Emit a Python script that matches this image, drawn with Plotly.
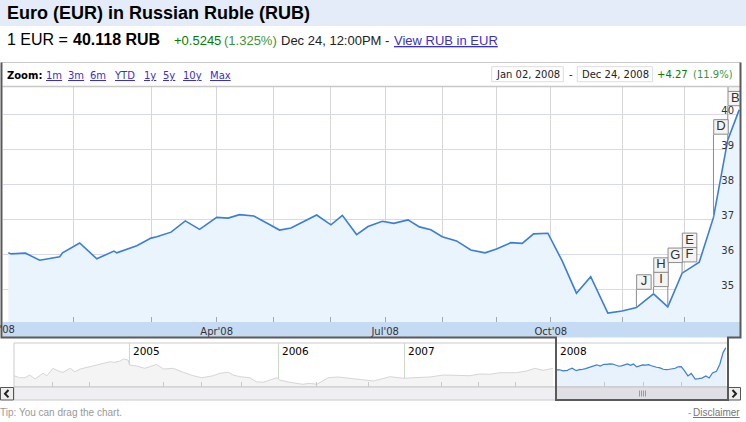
import plotly.graph_objects as go

W, H = 746, 422

# ---------------- data ----------------
# trading-session index (0 = Jan 02, 2008) and EUR/RUB close
sessions = [0, 1, 6, 11, 18, 19, 25, 31, 37, 38, 45, 50, 52, 57, 62, 67, 73, 77, 81, 86,
            91, 95, 99, 108, 113, 117, 122, 126, 131, 135, 140, 144, 148, 152, 157, 162, 167, 171, 176, 180,
            184, 189, 194, 199, 204, 210, 215, 220, 226, 231, 236, 242, 247, 252, 256]
rates = [36.04, 36.01, 36.03, 35.83, 35.93, 36.04, 36.32, 35.87, 36.09, 36.04,
         36.24, 36.46, 36.50, 36.63, 36.95, 36.71, 37.05, 37.03, 37.13, 37.09,
         36.87, 36.69, 36.75, 37.12, 36.84, 37.11, 36.56, 36.79, 36.94, 36.88,
         36.98, 36.78, 36.70, 36.50, 36.38, 36.12, 36.04, 36.15, 36.33, 36.31,
         36.58, 36.60, 35.81, 34.89, 35.36, 34.32, 34.38, 34.48, 34.87, 34.50,
         35.46, 35.77, 37.05, 39.26, 40.118]

month_ticks = [23, 50, 73, 93, 113, 132, 152, 171, 190, 215, 237]
month_labels = ["", "", "Apr'08", "", "", "Jul'08", "", "", "Oct'08", "", ""]
first_label = "Jan'08"
rate_ticks = [35, 36, 37, 38, 39, 40]

flag_letters = ["J", "I", "H", "G", "F", "E", "D", "B", "A"]
flag_sessions = [220, 226, 226, 231, 236, 236, 247, 252, 252]
flag_stack = [0, 0, 1, 0, 0, 1, 0, 0, 1]

# navigator history (sessions relative to Jan 02, 2008)
hist_sessions = [-815, -806, -798, -791, -783, -771, -765, -756, -748, -741, -730, -723, -715, -703, -690,
                 -680, -670, -663, -655, -650, -643, -641, -630, -618, -610, -600, -590, -575, -560, -545,
                 -532, -515, -505, -492, -485, -475, -460, -450, -440, -430, -422, -419, -415, -400, -380,
                 -370, -359, -342, -327, -309, -294, -274, -249, -239, -228, -214, -189, -169, -149, -129,
                 -114, -99, -84, -69, -59, -44, -31, -19, -4]
hist_rates = [34.93, 34.56, 34.56, 35.06, 34.32, 35.38, 34.93, 36.30, 35.80, 35.56, 36.30, 35.67, 36.17, 36.49, 36.91,
              37.23, 37.52, 37.41, 37.65, 38.02, 37.84, 36.91, 36.73, 36.30, 36.60, 37.04, 36.17, 36.30, 35.56, 34.93,
              34.56, 34.93, 35.38, 35.56, 35.06, 34.75, 34.56, 33.82, 33.71, 34.13, 34.45, 34.56, 34.13, 33.71, 33.34,
              33.52, 33.34, 34.56, 34.69, 34.45, 34.13, 33.95, 34.75, 34.63, 34.45, 34.56, 34.69, 35.06, 34.93, 34.93,
              35.25, 35.19, 35.49, 35.56, 35.49, 35.80, 36.30, 35.93, 36.30]
year_starts = [-641, -417, -228, 0]
year_labels = ["2005", "2006", "2007", "2008"]
quarter_ticks = [-756, -701, -590, -532, -472, -359, -282, -171, -116, -60, 73, 132, 190]

# ---------------- layout helpers ----------------
def fx(p):
    return p / W


def fy(p):
    return 1 - p / H


PLOT_L, PLOT_R, PLOT_T, PLOT_B = 2.5, 740.0, 86.0, 322.0
X0_PX, PX_PER_S = 8.3, 2.855
x_range = [(PLOT_L - X0_PX) / PX_PER_S, (PLOT_R - X0_PX) / PX_PER_S]
y_range = [34.067, 40.799]
ppx = (PLOT_R - PLOT_L) / (x_range[1] - x_range[0])
ppy = (PLOT_B - PLOT_T) / (y_range[1] - y_range[0])

NAV_L, NAV_R, NAV_T, NAV_B = 14.0, 728.0, 343.0, 387.0
nav_x_range = [-814.6, 259.3]
nav_y_range = [32.84, 40.99]

BLUE = "#3A7DDB"
ARIAL = "Liberation Sans"
VERD = "DejaVu Sans"

value_at = dict(zip(sessions, rates))
pole_px = {220: 18, 226: 7, 231: 44, 236: 11, 247: 83, 252: 34}
BOX = 14.3

flag_x = [s + 7.5 / ppx for s in flag_sessions]
flag_y = [value_at[s] + (pole_px[s] + k * BOX + 7.5) / ppy for s, k in zip(flag_sessions, flag_stack)]
pole_x, pole_y = [], []
for s in sorted(set(flag_sessions)):
    pole_x += [s, s, None]
    pole_y += [value_at[s], value_at[s] + pole_px[s] / ppy, None]

fig = go.Figure()
fig.add_trace(go.Scatter(x=sessions, y=rates, mode="lines", line=dict(color=BLUE, width=1.6),
                         fill="tozeroy", fillcolor="#EAF4FD", hoverinfo="skip", xaxis="x", yaxis="y"))
fig.add_trace(go.Scatter(x=pole_x, y=pole_y, mode="lines", line=dict(color="#8C8C8C", width=1),
                         hoverinfo="skip", xaxis="x", yaxis="y"))
fig.add_trace(go.Scatter(x=flag_x, y=flag_y, mode="markers+text", text=flag_letters,
                         textposition="middle center",
                         textfont=dict(family=ARIAL, size=13, color="#333333"),
                         marker=dict(symbol="square", size=14.5, color="#F4F4F4",
                                     line=dict(color="#8C8C8C", width=1)),
                         hoverinfo="skip", cliponaxis=True, xaxis="x", yaxis="y"))
fig.add_trace(go.Scatter(x=hist_sessions, y=hist_rates, mode="lines", line=dict(color="#D6D6D6", width=1),
                         fill="tozeroy", fillcolor="#F4F4F4", hoverinfo="skip", xaxis="x2", yaxis="y2"))
fig.add_trace(go.Scatter(x=sessions, y=rates, mode="lines", line=dict(color=BLUE, width=1.2),
                         fill="tozeroy", fillcolor="#E8F2FC", hoverinfo="skip", xaxis="x2", yaxis="y2"))


def rect(x0, y0, x1, y1, fill="rgba(0,0,0,0)", line="rgba(0,0,0,0)", lw=1, layer="above"):
    return dict(type="rect", xref="paper", yref="paper", x0=fx(x0), x1=fx(x1), y0=fy(y0), y1=fy(y1),
                fillcolor=fill, line=dict(color=line, width=lw), layer=layer)


def path(points, color, lw=1, layer="above"):
    d = "M " + " L ".join(f"{fx(a):.5f},{fy(b):.5f}" for a, b in points)
    return dict(type="path", xref="paper", yref="paper", path=d, line=dict(color=color, width=lw), layer=layer)


shapes = [
    rect(0, 0, 746, 26, fill="#E5ECF9", lw=0, layer="below"),
    rect(PLOT_L, PLOT_B, PLOT_R, 337.5, fill="#C5DAF3", lw=0, layer="below"),
    path([(1.5, 62.5), (740.5, 62.5)], "#C8C8C8", 1),
    path([(PLOT_L, 86.5), (PLOT_R, 86.5)], "#C8C8C8", 1.5),
    rect(491.7, 66.7, 563.3, 81.7, fill="white", line="#DDDDDD"),
    rect(577.3, 66.7, 652.7, 81.7, fill="white", line="#DDDDDD"),
    rect(NAV_L, NAV_T, NAV_R, NAV_B, line="#CCCCCC"),
    rect(NAV_L, NAV_B, NAV_R, 400, fill="#EFEFF3", line="#C8C8C8"),
    rect(556, NAV_B, 728, 400, fill="#DFDFE5", line="#C8C8C8"),
    rect(0.5, 387.5, 13.5, 400, fill="#EEEEEE", line="#555555"),
    rect(728, 387.5, 740.5, 400, fill="#EEEEEE", line="#555555"),
    path([(8.5, 390), (5, 393.7), (8.5, 397.4)], "#222222", 2),
    path([(732.5, 390), (736, 393.7), (732.5, 397.4)], "#222222", 2),
    path([(1.5, 62.5), (1.5, 337.5), (556, 337.5), (556, 400), (728, 400), (728, 337.5),
          (740.5, 337.5), (740.5, 62.5)], "#5A5A5A", 2),
]
for gx in (639.5, 641.5, 643.5, 645.5):
    shapes.append(path([(gx, 390.5), (gx, 396.5)], "#9A9A9A", 1))


def T(x, y, text, size=10, color="#000000", family=VERD, xanchor="left", under=False,
      bold=False, xref="paper", xshift=0):
    return dict(x=fx(x) if xref == "paper" else x, y=fy(y), xref=xref, yref="paper", text=text,
                showarrow=False, xanchor=xanchor, yanchor="middle", xshift=xshift,
                borderpad=0, borderwidth=0,
                font=dict(size=size, color=color, family=family, weight="bold" if bold else "normal",
                          lineposition="under" if under else "none"))


GREEN = "#008000"
GREEN2 = "#3A963A"
LINK = "#3A2FCC"
ann = [
    T(6.5, 13.4, "Euro (EUR) in Russian Ruble (RUB)", 18, "#000000", ARIAL, bold=True),
    T(7, 39.2, "1 EUR = ", 16, "#000000", ARIAL),
    T(72.5, 39.2, "40.118 RUB", 16, "#000000", ARIAL, bold=True),
    T(174, 40.3, "+0.5245", 13, GREEN, ARIAL),
    T(224.5, 40.3, "(1.325%)", 13, GREEN2, ARIAL),
    T(281, 40.3, "Dec 24, 12:00PM -", 13, "#222222", ARIAL),
    T(393.5, 40.3, "View RUB in EUR", 13, LINK, ARIAL, under=True),
    T(7.3, 75, "Zoom:", 10, "#000000", VERD, bold=True),
    T(527.5, 74.3, "Jan 02, 2008", 10, "#222222", VERD, xanchor="center"),
    T(570.7, 74.3, "-", 10, "#222222", VERD, xanchor="center"),
    T(615, 74.3, "Dec 24, 2008", 10, "#222222", VERD, xanchor="center"),
    T(656.7, 74.3, "+4.27", 10, GREEN, VERD),
    T(693.3, 74.3, "(11.9%)", 10, GREEN2, VERD),
    T(-1.5, 329.5, first_label, 10, "#333333", VERD, xanchor="center"),
    T(0.3, 412.3, "Tip: You can drag the chart.", 10, "#999999", ARIAL),
    T(688.3, 412.3, "-", 10, "#999999", ARIAL),
    T(692.7, 412.3, "Disclaimer", 10, "#777777", ARIAL, under=True),
]
for lx, lab in zip([45.7, 68.3, 90, 114, 144, 163.3, 182.7, 210],
                   ["1m", "3m", "6m", "YTD", "1y", "5y", "10y", "Max"]):
    ann.append(T(lx, 75, lab, 10, LINK, VERD, under=True))
for ys, yl in zip(year_starts, year_labels):
    ann.append(T(ys, 351, yl, 10.5, "#000000", VERD, xref="x2", xshift=4))

fig.update_layout(
    width=W, height=H, margin=dict(l=0, r=0, t=0, b=0),
    paper_bgcolor="white", plot_bgcolor="rgba(0,0,0,0)", showlegend=False,
    xaxis=dict(domain=[fx(PLOT_L), fx(PLOT_R)], range=x_range, anchor="y",
               tickmode="array", tickvals=month_ticks, ticktext=month_labels,
               showgrid=True, gridcolor="#D6D6D6", gridwidth=1,
               ticks="inside", ticklen=5, tickcolor="#A8A8A8", ticklabelstandoff=2,
               tickfont=dict(family=VERD, size=10, color="#333333"),
               zeroline=False, showline=False, fixedrange=True),
    yaxis=dict(domain=[fy(PLOT_B), fy(PLOT_T)], range=y_range, anchor="x", side="right",
               tickmode="array", tickvals=rate_ticks, ticklabelposition="inside",
               ticklabelshift=-4, ticklabelstandoff=3,
               showgrid=True, gridcolor="#D9D9EE", gridwidth=1, ticks="",
               tickfont=dict(family=VERD, size=10, color="#333333"),
               zeroline=False, showline=False, fixedrange=True),
    xaxis2=dict(domain=[fx(NAV_L), fx(NAV_R)], range=nav_x_range, anchor="y2",
                tickmode="array", tickvals=year_starts, showticklabels=False,
                showgrid=True, gridcolor="#C8DCC8", ticks="",
                minor=dict(tickmode="array", tickvals=quarter_ticks, ticks="inside", ticklen=5,
                           tickcolor="#C8C8C8", showgrid=False),
                zeroline=False, showline=False, fixedrange=True),
    yaxis2=dict(domain=[fy(NAV_B), fy(NAV_T)], range=nav_y_range, anchor="x2",
                showgrid=False, showticklabels=False, zeroline=False, showline=False, fixedrange=True),
    shapes=shapes, annotations=ann,
)

fig.write_html("out.html", config={"displayModeBar": False, "staticPlot": True},
               post_script="document.body.style.margin='0';document.body.style.overflow='hidden';")
